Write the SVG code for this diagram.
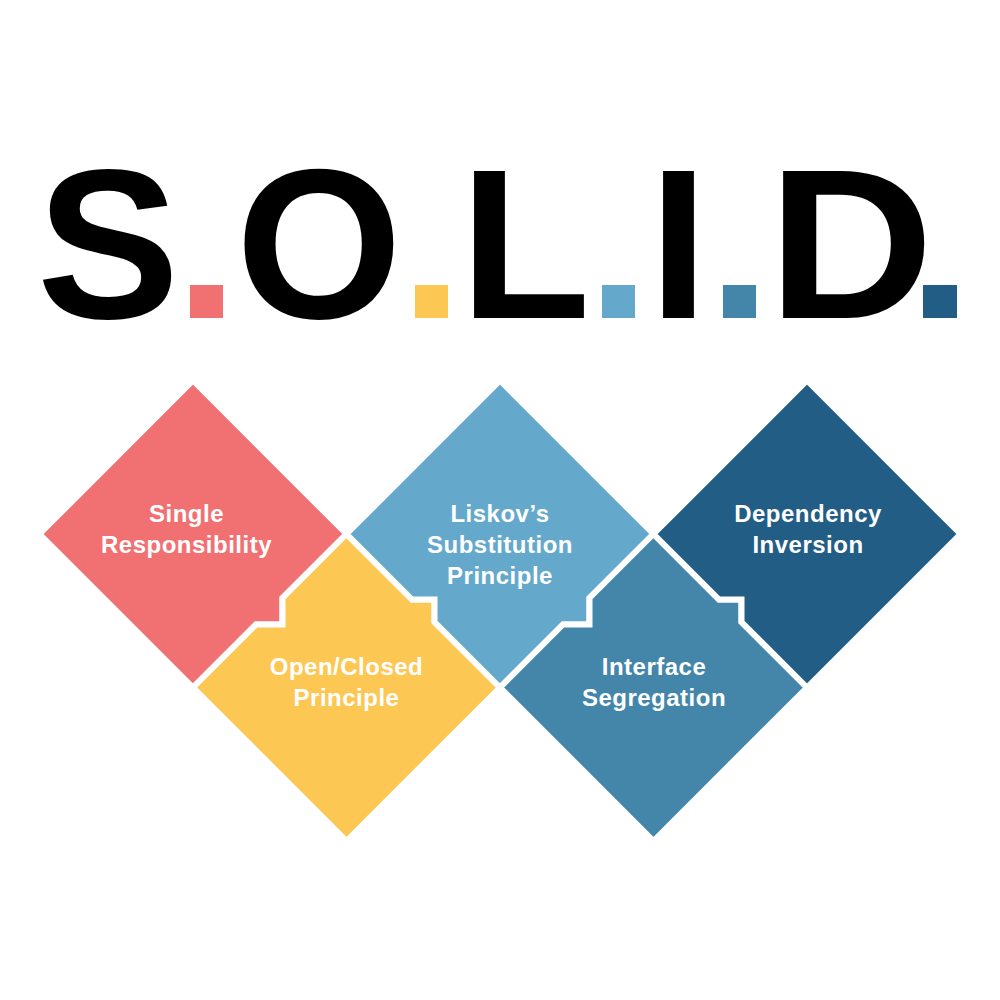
<svg xmlns="http://www.w3.org/2000/svg" width="1000" height="1000" viewBox="0 0 1000 1000">
  <style>
    .title { font-family: "Liberation Sans", Arial, sans-serif; font-weight: bold; font-size: 214px; fill: #000; text-anchor: middle; }
    .tile { stroke: #fff; stroke-width: 6; stroke-linejoin: miter; }
    .lbl { font-family: "Liberation Sans", Arial, sans-serif; font-weight: bold; font-size: 24px; letter-spacing: 0.5px; fill: #fff; text-anchor: middle; }
    .red { fill: #F17173; }
    .yellow { fill: #FDC754; }
    .lblue { fill: #64A8CC; }
    .mblue { fill: #4486A9; }
    .dblue { fill: #225D86; }
  </style>
  <rect width="1000" height="1000" fill="#fff"/>

  <g id="title">
    <text class="title" x="108" y="318">S</text>
    <rect class="red" x="190" y="285" width="33" height="33"/>
    <text class="title" x="319" y="318">O</text>
    <rect class="yellow" x="415" y="285" width="33" height="33"/>
    <text class="title" x="525" y="318">L</text>
    <rect class="lblue" x="602" y="285" width="33" height="33"/>
    <text class="title" x="678.5" y="318">I</text>
    <rect class="mblue" x="723" y="285" width="33" height="33"/>
    <text class="title" x="851" y="318" transform="translate(853.5,0) scale(1.075,1) translate(-853.5,0)">D</text>
    <rect class="dblue" x="923" y="285" width="34" height="33"/>
  </g>

  <g id="single-responsibility">
    <polygon class="tile red" points="193,380.5 346.5,534 282.5,598 282.5,624.5 256,624.5 193,687.5 39.5,534"/>
    <text class="lbl" x="186.5" y="522">Single</text>
    <text class="lbl" x="186.5" y="553">Responsibility</text>
  </g>

  <g id="open-closed">
    <polygon class="tile yellow" points="346.5,534 412,599.5 434.5,599.5 434.5,622 500,687.5 346.5,841 193,687.5 256,624.5 282.5,624.5 282.5,598"/>
    <text class="lbl" x="346.5" y="675">Open/Closed</text>
    <text class="lbl" x="346.5" y="706">Principle</text>
  </g>

  <g id="liskov-substitution">
    <polygon class="tile lblue" points="500,380.5 653.5,534 589.5,598 589.5,624.5 563,624.5 500,687.5 434.5,622 434.5,599.5 412,599.5 346.5,534"/>
    <text class="lbl" x="500" y="522">Liskov’s</text>
    <text class="lbl" x="500" y="553">Substitution</text>
    <text class="lbl" x="500" y="584">Principle</text>
  </g>

  <g id="interface-segregation">
    <polygon class="tile mblue" points="653.5,534 719,599.5 741.5,599.5 741.5,622 807,687.5 653.5,841 500,687.5 563,624.5 589.5,624.5 589.5,598"/>
    <text class="lbl" x="654" y="675">Interface</text>
    <text class="lbl" x="654" y="706">Segregation</text>
  </g>

  <g id="dependency-inversion">
    <polygon class="tile dblue" points="807,380.5 960.5,534 807,687.5 741.5,622 741.5,599.5 719,599.5 653.5,534"/>
    <text class="lbl" x="808" y="522">Dependency</text>
    <text class="lbl" x="808" y="553">Inversion</text>
  </g>
</svg>
